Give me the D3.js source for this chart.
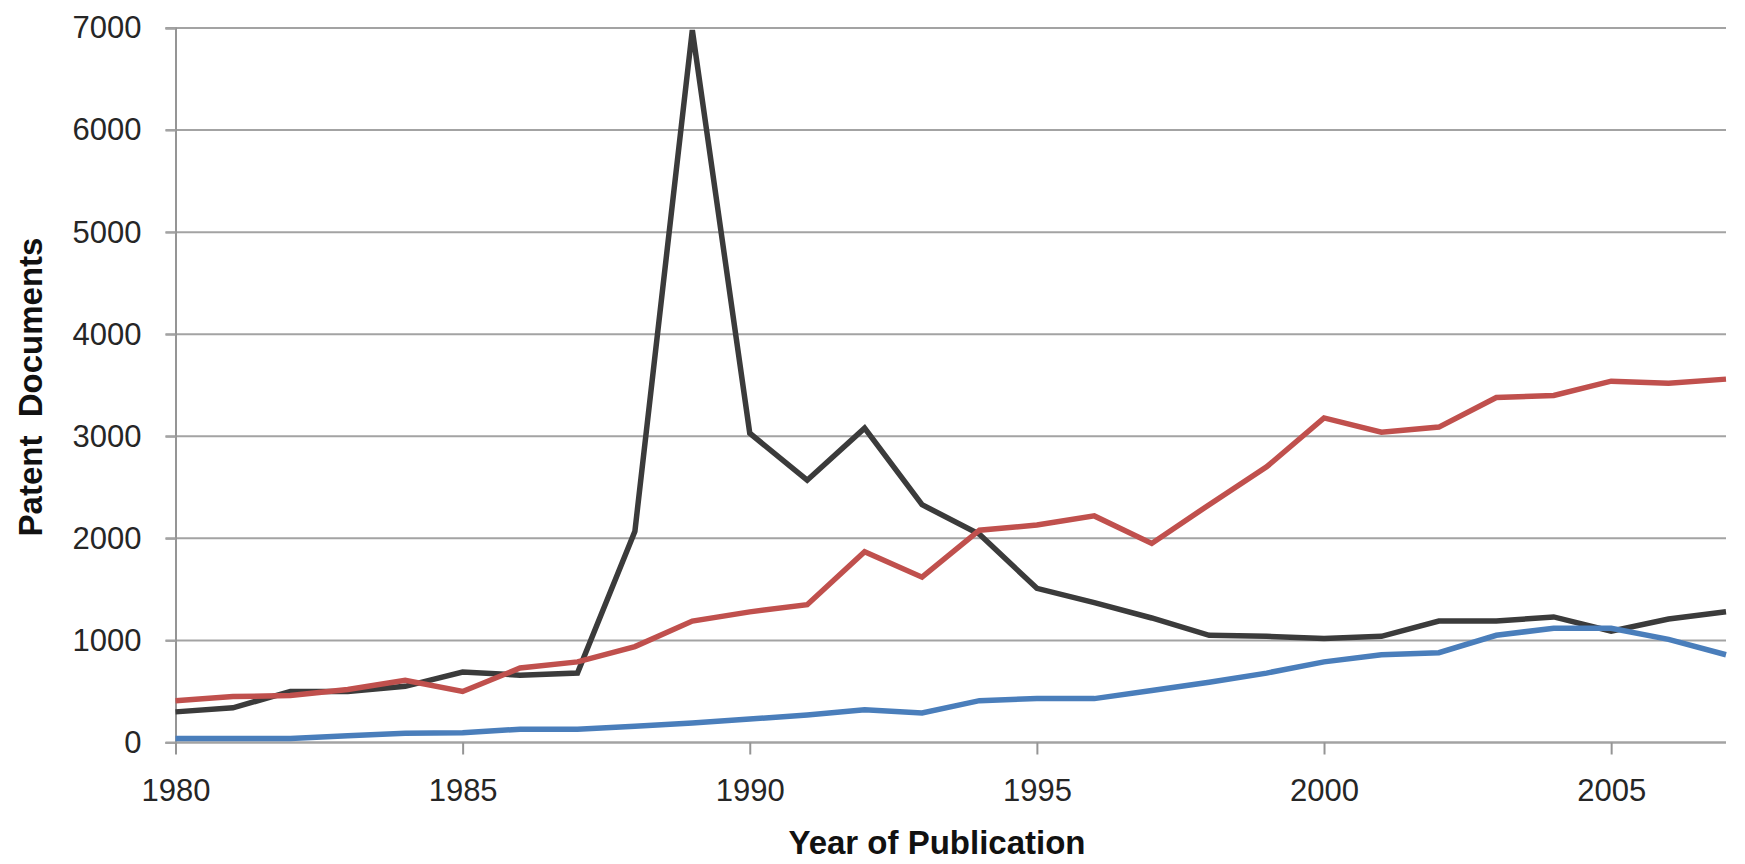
<!DOCTYPE html>
<html>
<head>
<meta charset="utf-8">
<script src="https://cdn.jsdelivr.net/npm/d3@7"></script>
<style>
  html, body { margin: 0; padding: 0; background: #fff; }
  svg { display: block; font-family: "Liberation Sans", Arial, sans-serif; }
</style>
</head>
<body>
<svg id="chart" width="1745" height="864"></svg>
<script>
const years = d3.range(1980, 2008);
const seriesBlack = [300, 340, 500, 500, 550, 690, 660, 680, 2070, 6980, 3030, 2570, 3080, 2330, 2040, 1510, 1370, 1220, 1050, 1040, 1020, 1040, 1190, 1190, 1230, 1090, 1210, 1280];
const seriesRed   = [410, 450, 460, 520, 610, 500, 730, 790, 940, 1190, 1280, 1350, 1870, 1620, 2080, 2130, 2220, 1950, 2330, 2700, 3180, 3040, 3090, 3380, 3400, 3540, 3520, 3560];
const seriesBlue  = [40, 40, 40, 65, 90, 95, 130, 130, 160, 190, 230, 270, 320, 290, 410, 430, 430, 510, 590, 680, 790, 860, 880, 1050, 1120, 1120, 1010, 860];
const yTicks = [0, 1000, 2000, 3000, 4000, 5000, 6000, 7000];
const xTicks = [1980, 1985, 1990, 1995, 2000, 2005];
const seriesList = [
  { name: "black", values: seriesBlack, color: "#3b3b3b" },
  { name: "red", values: seriesRed, color: "#c0504d" },
  { name: "blue", values: seriesBlue, color: "#4a7ebb" }
];

const svg = d3.select("#chart");
const x = d3.scaleLinear().domain([1980, 2007]).range([175.5, 1726]);
const y = d3.scaleLinear().domain([0, 7000]).range([742.5, 28]);

// gridlines
svg.append("g").selectAll("line").data(yTicks).join("line")
  .attr("x1", x(1980) - 10).attr("x2", x(2007))
  .attr("y1", d => y(d)).attr("y2", d => y(d))
  .attr("stroke", "#a3a3a3").attr("stroke-width", 2);

// y axis
const yAxis = svg.append("g").attr("transform", `translate(${x(1980)},0)`)
  .call(d3.axisLeft(y).tickValues(yTicks).tickSize(10).tickPadding(24).tickFormat(d3.format("d")));
yAxis.select(".domain").attr("stroke", "#959595").attr("stroke-width", 2);
yAxis.selectAll(".tick line").attr("stroke", "#a3a3a3").attr("stroke-width", 2);
yAxis.selectAll("text").attr("font-size", 31).attr("fill", "#262626")
  .attr("font-family", "Liberation Sans, Arial, sans-serif");

// x axis
const xAxis = svg.append("g").attr("transform", `translate(0,${y(0)})`)
  .call(d3.axisBottom(x).tickValues(xTicks).tickSize(12).tickPadding(24).tickFormat(d3.format("d")));
xAxis.select(".domain").attr("stroke", "#a3a3a3").attr("stroke-width", 2).attr("d", `M${x(1980)},0H${x(2007)}`);
xAxis.selectAll(".tick line").attr("stroke", "#959595").attr("stroke-width", 2);
xAxis.selectAll("text").attr("font-size", 31).attr("fill", "#262626")
  .attr("font-family", "Liberation Sans, Arial, sans-serif");

// lines
const line = d3.line().x((d, i) => x(years[i])).y(d => y(d));
svg.append("g").selectAll("path").data(seriesList).join("path")
  .attr("d", d => line(d.values))
  .attr("fill", "none")
  .attr("stroke", d => d.color)
  .attr("stroke-width", 5.5)
  .attr("stroke-linejoin", "miter")
  .attr("stroke-linecap", "butt");

// axis titles
svg.append("text")
  .attr("x", 937).attr("y", 854)
  .attr("text-anchor", "middle")
  .attr("font-size", 33).attr("font-weight", "bold").attr("fill", "#111")
  .text("Year of Publication");

svg.append("text")
  .attr("transform", `translate(42,387) rotate(-90)`)
  .attr("text-anchor", "middle")
  .attr("font-size", 33).attr("font-weight", "bold").attr("fill", "#111")
  .attr("xml:space", "preserve")
  .style("white-space", "pre")
  .text("Patent  Documents");
</script>
</body>
</html>
